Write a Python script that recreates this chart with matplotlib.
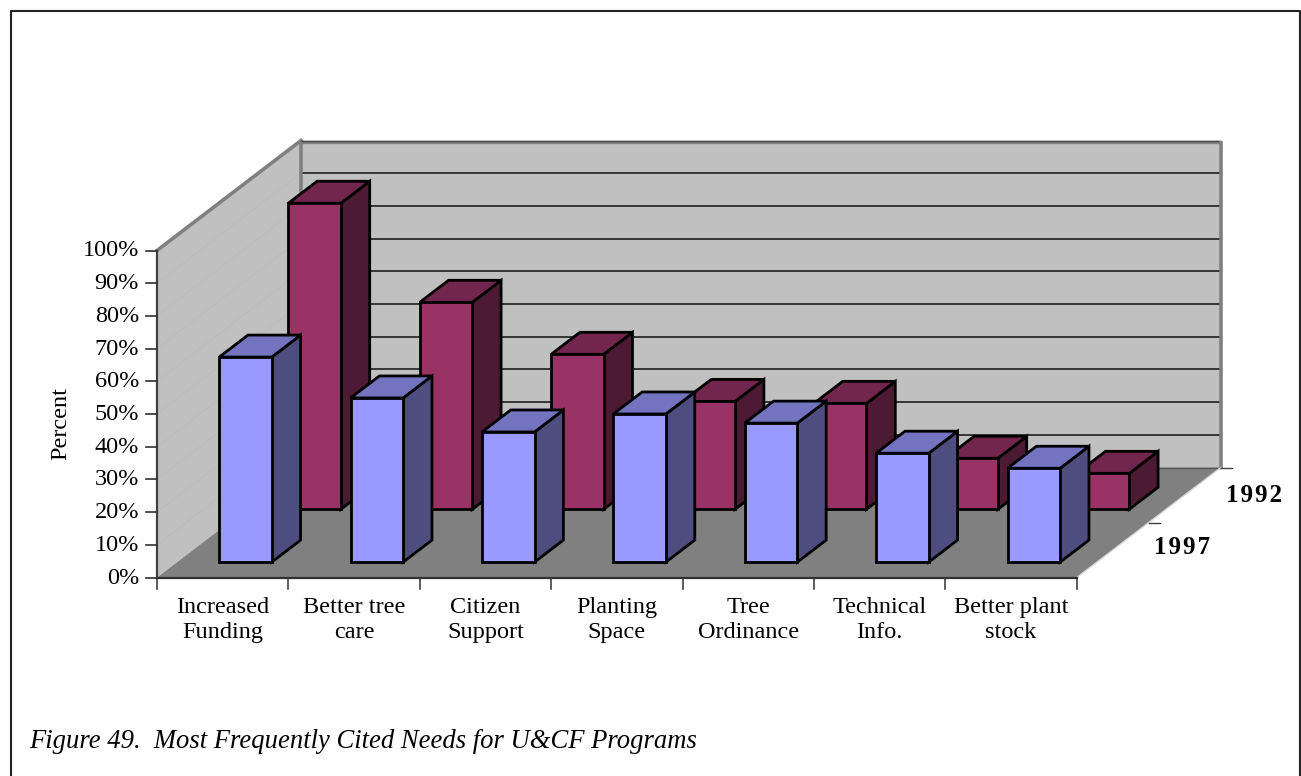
import matplotlib
matplotlib.use('Agg')
import matplotlib.pyplot as plt
from matplotlib.patches import Polygon

plt.rcParams['font.family'] = ['Liberation Serif', 'DejaVu Serif']

categories = ['Increased\nFunding', 'Better tree\ncare', 'Citizen\nSupport', 'Planting\nSpace',
              'Tree\nOrdinance', 'Technical\nInfo.', 'Better plant\nstock']
vals_1997 = [62.7, 50.2, 39.8, 45.3, 42.5, 33.3, 28.7]
vals_1992 = [93.6, 63.3, 47.4, 33.0, 32.4, 15.6, 11.0]
yticks = [0, 10, 20, 30, 40, 50, 60, 70, 80, 90, 100]
title = 'Figure 49.  Most Frequently Cited Needs for U&CF Programs'

# oblique projection of the 3d box, in picture pixels
X0, Y0 = 157, 577.5
CAT_W = 131.4
VAL_H = 3.27
DX, DY = 144, 110

def proj(c, v, z):
    return (X0 + c * CAT_W + z * DX, Y0 - v * VAL_H - z * DY)

fig = plt.figure(figsize=(13.01, 7.76), dpi=100, facecolor='white')
ax = fig.add_axes([0, 0, 1, 1])
ax.set_xlim(0, 1301)
ax.set_ylim(776, 0)
ax.axis('off')

# frame runs off the bottom of the picture
ax.plot([11, 11, 1300, 1300], [776, 11, 11, 776], color='#222222', lw=1.5, zorder=1)

n = len(categories)
grey = '#808080'
# walls and floor
ax.add_patch(Polygon([proj(0, 0, 0), proj(0, 100, 0), proj(0, 100, 1), proj(0, 0, 1)], fc='#c0c0c0', ec='none', zorder=1))
ax.add_patch(Polygon([proj(0, 0, 1), proj(0, 100, 1), proj(n, 100, 1), proj(n, 0, 1)], fc='#c0c0c0', ec='none', zorder=1))
ax.add_patch(Polygon([proj(0, 0, 0), proj(n, 0, 0), proj(n, 0, 1), proj(0, 0, 1)], fc=grey, ec='none', zorder=1))

for v in yticks[1:-1]:
    a, b, c = proj(0, v, 0), proj(0, v, 1), proj(n, v, 1)
    ax.plot([a[0], b[0]], [a[1], b[1]], color='#bababa', lw=0.5, zorder=2)
    ax.plot([b[0], c[0]], [b[1], c[1]], color='#111111', lw=1.1, zorder=2)

# wall edges
a, b, c, d = proj(0, 100, 0), proj(0, 100, 1), proj(n, 100, 1), proj(n, 0, 1)
ax.plot([a[0], b[0]], [a[1], b[1]], color=grey, lw=2.6, zorder=2)
ax.plot([b[0], b[0]], [b[1], proj(0, 0, 1)[1]], color=grey, lw=2.6, solid_capstyle='butt', zorder=2)
ax.plot([b[0], c[0]], [b[1] + 1, c[1] + 1], color=grey, lw=2.4, solid_capstyle='butt', zorder=2)
ax.plot([b[0], c[0]], [b[1], c[1]], color='#444444', lw=1, solid_capstyle='butt', zorder=2)
ax.plot([c[0], d[0]], [c[1], d[1]], color=grey, lw=2.6, solid_capstyle='butt', zorder=2)
ax.plot([proj(0, 0, 1)[0], d[0]], [proj(0, 0, 1)[1], d[1]], color='#555555', lw=1, zorder=2)

# y axis
a, b = proj(0, 0, 0), proj(0, 100, 0)
ax.plot([a[0], b[0]], [a[1], b[1]], color='#404040', lw=1.6, zorder=3)
for v in yticks:
    p = proj(0, v, 0)
    ax.plot([p[0] - 11, p[0]], [p[1], p[1]], color='#303030', lw=1.2, zorder=3)
    ax.text(p[0] - 18, p[1] + 0.5, '%d%%' % v, ha='right', va='center', fontsize=17.5, color='black')
ax.text(61, 424, 'Percent', rotation=90, ha='center', va='center', fontsize=17.5, color='black')

# x axis
a, b = proj(0, 0, 0), proj(n, 0, 0)
ax.plot([a[0], b[0]], [a[1], b[1]], color='#303030', lw=1.6, zorder=3)
for i in range(n + 1):
    p = proj(i, 0, 0)
    ax.plot([p[0], p[0]], [p[1], p[1] + 11], color='#303030', lw=1.1, zorder=3)
for i, cat in enumerate(categories):
    p = proj(i + 0.5, 0, 0)
    ax.text(p[0], 620, cat, ha='center', va='center', fontsize=17.5, linespacing=1.3, color='black')

# depth axis
a, b = proj(n, 0, 0), proj(n, 0, 1)
ax.plot([a[0], b[0]], [a[1], b[1]], color='#d8d8d8', lw=1, zorder=2)
for z in [0.5, 1.0]:
    p = proj(n, 0, z)
    ax.plot([p[0], p[0] + 11], [p[1], p[1]], color='#404040', lw=1, zorder=2)
ax.text(1182, 548, '1\u200a9\u200a9\u200a7', ha='center', va='center', fontsize=18, fontweight='bold')
ax.text(1254.5, 496, '1\u200a9\u200a9\u200a2', ha='center', va='center', fontsize=18, fontweight='bold')

BAR_X = 0.32
BAR_W = 0.40
BAR_D = 0.20

def bar3d(c, v, z, front, top, side, zo):
    l, r = c + BAR_X, c + BAR_X + BAR_W
    kw = dict(ec='black', lw=2, joinstyle='miter', zorder=zo)
    ax.add_patch(Polygon([proj(r, 0, z), proj(r, 0, z + BAR_D), proj(r, v, z + BAR_D), proj(r, v, z)], fc=side, **kw))
    ax.add_patch(Polygon([proj(l, v, z), proj(r, v, z), proj(r, v, z + BAR_D), proj(l, v, z + BAR_D)], fc=top, **kw))
    ax.add_patch(Polygon([proj(l, 0, z), proj(r, 0, z), proj(r, v, z), proj(l, v, z)], fc=front, **kw))

for i, v in enumerate(vals_1992):
    bar3d(i, v, 0.62, '#993366', '#73264d', '#4d1a33', 10 + i * 0.1)
for i, v in enumerate(vals_1997):
    bar3d(i, v, 0.14, '#9999ff', '#7373bf', '#4d4d80', 20 + i * 0.1)

ax.text(29, 742, title, ha='left', va='center', fontsize=19.2, style='italic', color='black')

fig.savefig('out.png', dpi=100, facecolor='white')
